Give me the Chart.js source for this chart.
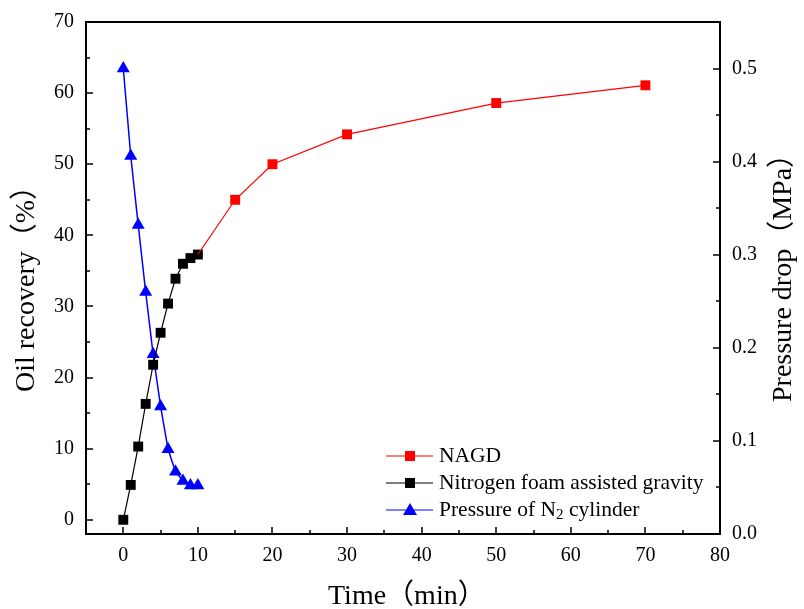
<!DOCTYPE html>
<html><head><meta charset="utf-8">
<script src="https://cdn.jsdelivr.net/npm/chart.js@4.4.0/dist/chart.umd.min.js"></script>
<style>html,body{margin:0;padding:0;background:#fff;} #wrap{width:804px;height:609px;}</style>
</head><body><div id="wrap"><canvas id="c" width="804" height="609"></canvas></div>
<script>
// ---- data ----
const timeFoam = [0, 1, 2, 3, 4, 5, 6, 7, 8, 9, 10];
const recoveryFoam = [0, 4.9, 10.3, 16.3, 21.8, 26.3, 30.4, 33.9, 36.0, 36.8, 37.3];
const timeNAGD = [10, 15, 20, 30, 50, 70];
const recoveryNAGD = [37.3, 45.0, 50.0, 54.2, 58.6, 61.1];
const timePressure = [0, 1, 2, 3, 4, 5, 6, 7, 8, 9, 10];
const pressureN2 = [0.500, 0.406, 0.332, 0.260, 0.193, 0.137, 0.091, 0.067, 0.057, 0.052, 0.052];
const xTickValues = [0, 10, 20, 30, 40, 50, 60, 70, 80];
const leftTickValues = [0, 10, 20, 30, 40, 50, 60, 70];
const rightTickValues = [0, 0.1, 0.2, 0.3, 0.4, 0.5];
const seriesNames = ['NAGD', 'Nitrogen foam assisted gravity', 'Pressure of N', '2', ' cylinder'];
const axisTitles = ['Time（min）', 'Oil recovery（%）', 'Pressure drop（MPa）'];

const FONT = '"Liberation Serif", "Times New Roman", serif';
const TITLE_FONT = '28px "Liberation Serif", "Noto Sans CJK SC", serif';
const LEG = 21.5;

const toXY = (xs, ys) => xs.map((x, i) => ({x: x, y: ys[i]}));

const framePlugin = {
  id: 'frameTicks',
  afterDraw(chart) {
    const ctx = chart.ctx;
    const a = chart.chartArea;
    const sx = chart.scales.x, sy = chart.scales.y, sy2 = chart.scales.y2;
    ctx.save();
    ctx.strokeStyle = '#000';
    // ticks (inward)
    ctx.lineWidth = 1.5;
    ctx.beginPath();
    for (let v = 0; v <= 80; v += 5) {
      const px = Math.round(sx.getPixelForValue(v));
      const len = v % 10 === 0 ? 7 : 4;
      ctx.moveTo(px, a.bottom); ctx.lineTo(px, a.bottom - len);
    }
    for (let v = 0; v <= 70; v += 5) {
      const py = Math.round(sy.getPixelForValue(v));
      const len = v % 10 === 0 ? 7 : 4;
      ctx.moveTo(a.left, py); ctx.lineTo(a.left + len, py);
    }
    for (let k = 0; k <= 10; k++) {
      const v = k * 0.05;
      const py = Math.round(sy2.getPixelForValue(v));
      const len = k % 2 === 0 ? 7 : 4;
      ctx.moveTo(a.right, py); ctx.lineTo(a.right - len, py);
    }
    ctx.stroke();
    // frame
    ctx.lineWidth = 2;
    ctx.strokeRect(Math.round(a.left), Math.round(a.top), Math.round(a.right - a.left), Math.round(a.bottom - a.top));

    // axis titles
    ctx.fillStyle = '#000';
    ctx.font = TITLE_FONT;
    ctx.textAlign = 'left';
    ctx.textBaseline = 'alphabetic';
    ctx.fillText(axisTitles[0], 328, 604);
    ctx.save();
    ctx.translate(34, 392);
    ctx.rotate(-Math.PI / 2);
    ctx.fillText(axisTitles[1], 0, 0);
    ctx.restore();
    ctx.save();
    ctx.translate(791, 402);
    ctx.rotate(-Math.PI / 2);
    ctx.fillText(axisTitles[2], 0, 0);
    ctx.restore();

    // legend
    const ds = chart.data.datasets;
    const rows = [456, 483, 510];
    const lx0 = 386, lx1 = 433, mx = 410, tx = 439;
    ctx.font = LEG + 'px ' + FONT;
    ctx.textAlign = 'left';
    ctx.textBaseline = 'middle';
    for (let i = 0; i < 3; i++) {
      const d = ds[i];
      const y = rows[i];
      ctx.strokeStyle = d.borderColor;
      ctx.lineWidth = 1.2;
      ctx.beginPath(); ctx.moveTo(lx0, y); ctx.lineTo(lx1, y); ctx.stroke();
      ctx.fillStyle = d.borderColor;
      if (d.pointStyle === 'triangle') {
        ctx.beginPath();
        ctx.moveTo(mx, y - 7); ctx.lineTo(mx + 7, y + 5); ctx.lineTo(mx - 7, y + 5); ctx.closePath(); ctx.fill();
      } else {
        ctx.fillRect(mx - 5, y - 5, 10, 10);
      }
      ctx.fillStyle = '#000';
      if (i < 2) {
        ctx.fillText(seriesNames[i], tx, y);
      } else {
        ctx.fillText(seriesNames[2], tx, y);
        const w = ctx.measureText(seriesNames[2]).width;
        ctx.font = '15px ' + FONT;
        ctx.fillText(seriesNames[3], tx + w, y + 5);
        const w2 = ctx.measureText(seriesNames[3]).width;
        ctx.font = LEG + 'px ' + FONT;
        ctx.fillText(seriesNames[4], tx + w + w2, y);
      }
    }
    ctx.restore();
  }
};

new Chart(document.getElementById('c'), {
  type: 'line',
  data: {
    datasets: [
      {
        label: 'NAGD',
        data: toXY(timeNAGD, recoveryNAGD),
        yAxisID: 'y',
        borderColor: '#ff0000', backgroundColor: '#ff0000',
        borderWidth: 1.2, pointStyle: 'rect',
        pointRadius: timeNAGD.map((t, i) => i === 0 ? 0 : 7),
        pointBorderWidth: 0, tension: 0
      },
      {
        label: 'Nitrogen foam assisted gravity',
        data: toXY(timeFoam, recoveryFoam),
        yAxisID: 'y',
        borderColor: '#000000', backgroundColor: '#000000',
        borderWidth: 1.2, pointStyle: 'rect', pointRadius: 7,
        pointBorderWidth: 0, tension: 0
      },
      {
        label: 'Pressure of N2 cylinder',
        data: toXY(timePressure, pressureN2),
        yAxisID: 'y2',
        borderColor: '#0000ff', backgroundColor: '#0000ff',
        borderWidth: 1.5, pointStyle: 'triangle', pointRadius: 7.5,
        pointBorderWidth: 0, tension: 0
      }
    ]
  },
  options: {
    responsive: false,
    animation: false,
    devicePixelRatio: 1,
    layout: { padding: { top: 22, left: 0, right: 0, bottom: 0 } },
    plugins: { legend: { display: false }, tooltip: { enabled: false } },
    scales: {
      x: {
        type: 'linear', position: 'bottom', min: -5, max: 80,
        afterBuildTicks: s => { s.ticks = xTickValues.map(v => ({value: v})); },
        afterFit: s => { s.height = 75; },
        grid: { display: false }, border: { display: false },
        ticks: { color: '#000', font: { family: FONT, size: 20 }, padding: 2, maxRotation: 0, autoSkip: false,
                 callback: v => String(v) }
      },
      y: {
        type: 'linear', position: 'left', min: -2, max: 70,
        afterBuildTicks: s => { s.ticks = leftTickValues.map(v => ({value: v})); },
        afterFit: s => { s.width = 86; },
        grid: { display: false }, border: { display: false },
        ticks: { color: '#000', font: { family: FONT, size: 20 }, padding: 4, autoSkip: false,
                 callback: v => String(v) }
      },
      y2: {
        type: 'linear', position: 'right', min: 0, max: 0.55,
        afterBuildTicks: s => { s.ticks = rightTickValues.map(v => ({value: v})); },
        afterFit: s => { s.width = 84; },
        grid: { display: false }, border: { display: false },
        ticks: { color: '#000', font: { family: FONT, size: 20 }, padding: 4, autoSkip: false,
                 callback: v => Number(v).toFixed(1) }
      }
    }
  },
  plugins: [framePlugin]
});
</script>
</body></html>
